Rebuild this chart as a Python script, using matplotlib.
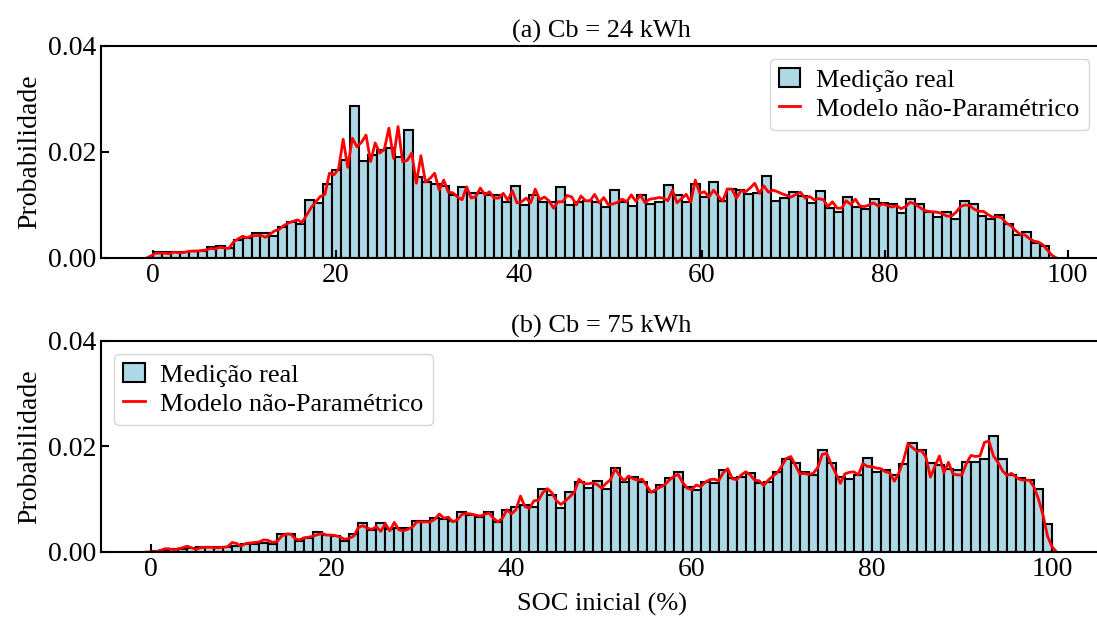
import numpy as np
import matplotlib.pyplot as plt
from matplotlib.ticker import FormatStrFormatter

plt.rcParams['font.family'] = ['Liberation Serif', 'DejaVu Serif']
plt.rcParams['font.size'] = 19

# histogram heights, in units of 1e-4 (100 bins each)
hist_24_e4 = [11, 11, 12, 11, 14, 14, 20, 23, 19, 33,
              38, 47, 47, 42, 58, 67, 64, 109, 103, 140,
              166, 185, 286, 183, 194, 204, 207, 191, 242, 153,
              143, 139, 135, 119, 133, 122, 122, 119, 119, 106,
              136, 100, 119, 106, 106, 133, 100, 105, 108, 106,
              97, 128, 105, 98, 119, 101, 106, 138, 119, 105,
              139, 116, 143, 108, 130, 128, 120, 123, 155, 108,
              114, 125, 117, 104, 127, 95, 87, 116, 97, 92,
              111, 104, 101, 84, 111, 102, 87, 78, 87, 74,
              108, 101, 80, 74, 81, 64, 43, 49, 28, 23]
hist_75_e4 = [2, 4, 6, 6, 8, 9, 9, 9, 10, 12,
              15, 15, 17, 16, 34, 34, 21, 26, 37, 32,
              30, 20, 34, 54, 42, 54, 43, 45, 45, 59,
              59, 64, 62, 59, 76, 71, 67, 76, 57, 80,
              86, 89, 85, 119, 108, 83, 114, 133, 121, 135,
              119, 160, 133, 143, 133, 113, 127, 140, 152, 123,
              118, 133, 130, 155, 140, 143, 150, 130, 133, 152,
              177, 168, 152, 146, 193, 168, 143, 138, 146, 179,
              152, 155, 146, 166, 207, 193, 168, 165, 157, 155,
              171, 171, 177, 220, 176, 146, 140, 136, 119, 53]

# range covered by the bins of each battery size
range_24 = (0, 98)
range_75 = (0, 100)

# non-parametric model curves, in units of 1e-4 (step of 0.5 % SOC)
curve_24_start, curve_24_end = -0.7, 98.8
curve_24_e4 = [0, 4, 9, 9, 9, 8, 11, 10, 10, 12,
               13, 13, 14, 15, 18, 17, 20, 19, 18, 30,
               36, 41, 38, 42, 42, 43, 39, 45, 51, 54,
               61, 66, 69, 72, 67, 81, 95, 106, 116, 120,
               160, 157, 168, 224, 171, 226, 210, 218, 232, 182,
               217, 198, 205, 245, 188, 248, 182, 184, 198, 141,
               193, 143, 150, 160, 128, 147, 124, 123, 115, 110,
               134, 113, 116, 132, 119, 125, 113, 113, 122, 109,
               127, 104, 106, 113, 104, 130, 110, 115, 108, 94,
               106, 106, 118, 115, 100, 117, 108, 108, 120, 104,
               114, 100, 102, 105, 111, 106, 119, 107, 119, 104,
               111, 112, 114, 113, 108, 128, 104, 112, 120, 105,
               147, 122, 125, 115, 128, 117, 107, 130, 130, 113,
               127, 125, 132, 141, 122, 136, 124, 128, 125, 121,
               118, 115, 120, 124, 113, 116, 110, 112, 110, 97,
               106, 94, 94, 108, 101, 111, 98, 97, 100, 104,
               98, 102, 99, 96, 99, 93, 97, 105, 102, 96,
               90, 88, 87, 86, 84, 79, 79, 86, 97, 100,
               99, 92, 88, 88, 82, 77, 78, 76, 66, 61,
               52, 45, 44, 37, 32, 30, 25, 15, 5, 0]

curve_75_start, curve_75_end = -0.5, 100.5
curve_75_e4 = [0, 0, 1, 2, 6, 6, 4, 6, 8, 11,
               8, 5, 8, 9, 9, 8, 8, 9, 10, 18,
               16, 11, 16, 17, 18, 19, 23, 22, 18, 20,
               30, 34, 34, 25, 23, 27, 28, 30, 33, 35,
               32, 32, 31, 28, 24, 26, 30, 46, 50, 45,
               43, 48, 39, 54, 40, 56, 42, 40, 43, 47,
               57, 57, 57, 57, 62, 72, 64, 66, 57, 61,
               71, 73, 72, 70, 68, 71, 74, 64, 57, 64,
               80, 72, 80, 106, 86, 83, 97, 98, 113, 120,
               112, 97, 90, 97, 105, 114, 138, 130, 129, 131,
               128, 121, 130, 137, 158, 145, 135, 144, 139, 136,
               138, 126, 113, 118, 123, 127, 136, 143, 147, 132,
               121, 118, 127, 124, 132, 137, 138, 135, 150, 158,
               139, 137, 146, 152, 146, 136, 135, 126, 136, 144,
               150, 163, 177, 181, 165, 148, 149, 147, 149, 160,
               185, 187, 166, 149, 130, 148, 151, 152, 146, 168,
               162, 162, 159, 158, 152, 150, 134, 150, 173, 205,
               198, 191, 192, 180, 142, 162, 182, 150, 170, 148,
               146, 146, 168, 183, 181, 182, 208, 210, 182, 170,
               154, 145, 149, 142, 137, 136, 136, 123, 100, 70,
               30, 10, 0]


def painel(ax, hist_e4, bin_range, curve_e4, c0, c1, titulo, loc):
    hist = np.array(hist_e4) * 1e-4
    edges = np.linspace(bin_range[0], bin_range[1], len(hist) + 1)
    barras = ax.bar(edges[:-1], hist, width=np.diff(edges), align='edge',
                    color='lightblue', edgecolor='black', linewidth=1.5,
                    label='Medição real')
    xc = np.linspace(c0, c1, len(curve_e4))
    linha, = ax.plot(xc, np.array(curve_e4) * 1e-4, color='red', lw=2,
                     label='Modelo não-Paramétrico')
    ax.set_ylim(0, 0.04)
    ax.set_yticks([0, 0.02, 0.04])
    ax.yaxis.set_major_formatter(FormatStrFormatter('%.2f'))
    ax.set_xticks([0, 20, 40, 60, 80, 100])
    ax.tick_params(direction='in', length=6, width=1.5, labelsize=20)
    for s in ax.spines.values():
        s.set_linewidth(1.5)
    ax.spines['right'].set_visible(False)
    ax.set_ylabel('Probabilidade', fontsize=20)
    ax.set_title(titulo, fontsize=19, pad=6)
    ax.legend([barras, linha], ['Medição real', 'Modelo não-Paramétrico'],
              loc=loc, handlelength=0.8, handletextpad=0.6,
              borderpad=0.35, labelspacing=0.2)


fig = plt.figure(figsize=(10.97, 6.23), dpi=100)
ax1 = fig.add_axes([0.0921, 0.5859, 0.9125, 0.3403])
ax2 = fig.add_axes([0.0921, 0.1140, 0.9125, 0.3387])

painel(ax1, hist_24_e4, range_24, curve_24_e4, curve_24_start, curve_24_end,
       '(a) Cb = 24 kWh', 'upper right')
painel(ax2, hist_75_e4, range_75, curve_75_e4, curve_75_start, curve_75_end,
       '(b) Cb = 75 kWh', 'upper left')
ax2.set_xlabel('SOC inicial (%)', labelpad=8)

fig.savefig('out.png', dpi=100)
